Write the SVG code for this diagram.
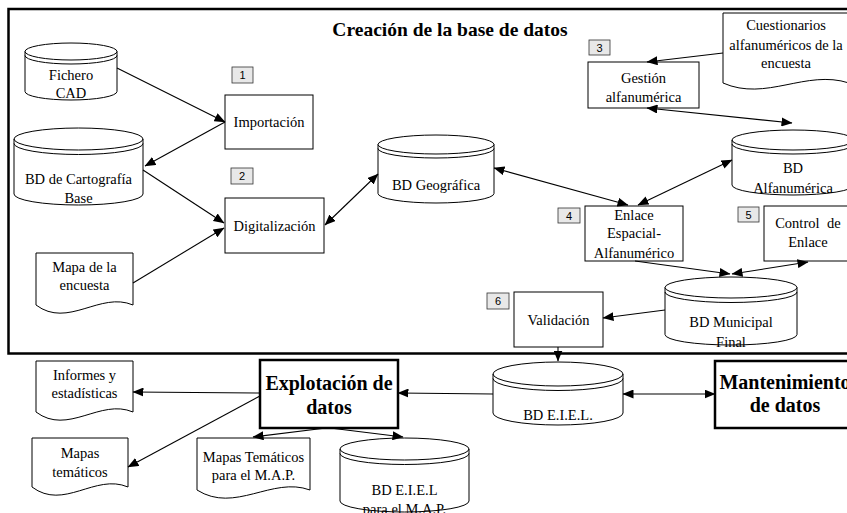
<svg xmlns="http://www.w3.org/2000/svg" width="847" height="513" viewBox="0 0 847 513">
<defs>
<marker id="ah" viewBox="0 0 11 9" refX="10.5" refY="4.5" markerWidth="11" markerHeight="9" markerUnits="userSpaceOnUse" orient="auto-start-reverse">
<path d="M0,0 L11,4.5 L0,9 z" fill="#000"/>
</marker>
</defs>
<style>
.n{fill:#fff;stroke:#000;stroke-width:1}
.tk{fill:#fff;stroke:#000;stroke-width:2.5}
.ln{fill:none;stroke:#000;stroke-width:1}
.t{font-family:"Liberation Serif","Times New Roman",serif;font-size:14.5px;fill:#000;text-anchor:middle}
.b{font-family:"Liberation Serif","Times New Roman",serif;font-size:20px;font-weight:bold;fill:#000;text-anchor:middle}
.lb{fill:#e8e8e8;stroke:#333;stroke-width:0.8}
.lt{font-family:"Liberation Sans",Arial,sans-serif;font-size:11px;fill:#000;text-anchor:middle}
.c{fill:none;stroke:#000;stroke-width:1.1;marker-end:url(#ah)}
.c2{fill:none;stroke:#000;stroke-width:1.1;marker-end:url(#ah);marker-start:url(#ah)}
</style>

<g id="frame">
<rect x="8.5" y="9" width="850" height="344.5" fill="none" stroke="#000" stroke-width="2.5"/>
<text x="450" y="36" class="b" style="font-size:19.5px">Creación de la base de datos</text>
</g>

<g id="fichero-cad">
<path class="n" d="M25,51.5 A46,8.5 0 0 1 117,51.5 L117,91.5 A46,8.5 0 0 1 25,91.5 Z"/>
<path class="ln" d="M25,51.5 A46,8.5 0 0 0 117,51.5 M25,55.5 A46,8.5 0 0 0 117,55.5"/>
<text x="71" y="80" class="t">Fichero</text>
<text x="71" y="98" class="t">CAD</text>
</g>

<g id="bd-cartografia">
<path class="n" d="M14,139 A64.5,11 0 0 1 143,139 L143,194 A64.5,11 0 0 1 14,194 Z"/>
<path class="ln" d="M14,139 A64.5,11 0 0 0 143,139 M14,143.5 A64.5,11 0 0 0 143,143.5"/>
<text x="78.5" y="184" class="t">BD de Cartografía</text>
<text x="78.5" y="203" class="t">Base</text>
</g>

<g id="mapa-encuesta">
<path class="n" d="M36,253 L133,253 L133,305 C100,291 68,329 36,305 Z"/>
<text x="84.5" y="272" class="t">Mapa de la</text>
<text x="84.5" y="290" class="t">encuesta</text>
</g>

<g id="importacion">
<rect class="n" x="225" y="95" width="88" height="54"/>
<text x="269" y="127" class="t">Importación</text>
<rect class="lb" x="232" y="67" width="21" height="16"/>
<text x="242.5" y="79" class="lt">1</text>
</g>

<g id="digitalizacion">
<rect class="n" x="225" y="198" width="99" height="55"/>
<text x="274.5" y="231" class="t">Digitalización</text>
<rect class="lb" x="231" y="168" width="22" height="16"/>
<text x="242" y="180" class="lt">2</text>
</g>

<g id="bd-geografica">
<path class="n" d="M378,144.5 A58,9.5 0 0 1 494,144.5 L494,193.5 A58,9.5 0 0 1 378,193.5 Z"/>
<path class="ln" d="M378,144.5 A58,9.5 0 0 0 494,144.5 M378,148.5 A58,9.5 0 0 0 494,148.5"/>
<text x="436" y="190" class="t">BD Geográfica</text>
</g>

<g id="gestion">
<rect class="n" x="588" y="62" width="111" height="46"/>
<text x="643.5" y="83" class="t">Gestión</text>
<text x="643.5" y="102" class="t">alfanumérica</text>
<rect class="lb" x="589" y="40" width="21" height="15"/>
<text x="599.5" y="51.5" class="lt">3</text>
</g>

<g id="cuestionarios">
<path class="n" d="M723,13 L849,13 L849,83 C806,69 766,102 723,83 Z"/>
<text x="786" y="30" class="t">Cuestionarios</text>
<text x="786" y="50" class="t">alfanuméricos de la</text>
<text x="786" y="68" class="t">encuesta</text>
</g>

<g id="bd-alfanumerica">
<path class="n" d="M732,140 A61,10 0 0 1 854,140 L854,185 A61,10 0 0 1 732,185 Z"/>
<path class="ln" d="M732,140 A61,10 0 0 0 854,140 M732,144 A61,10 0 0 0 854,144"/>
<text x="793" y="173" class="t">BD</text>
<text x="793" y="193" class="t">Alfanumérica</text>
</g>

<g id="enlace">
<rect class="n" x="585" y="206" width="98" height="55"/>
<text x="634" y="220" class="t">Enlace</text>
<text x="634" y="238" class="t">Espacial-</text>
<text x="634" y="258" class="t">Alfanumérico</text>
<rect class="lb" x="558" y="208" width="22" height="15"/>
<text x="569" y="219.5" class="lt">4</text>
</g>

<g id="control">
<rect class="n" x="764" y="206" width="90" height="55"/>
<text x="808" y="228" class="t" style="word-spacing:4px">Control de</text>
<text x="808" y="247" class="t">Enlace</text>
<rect class="lb" x="738" y="207" width="21" height="15"/>
<text x="748.5" y="218.5" class="lt">5</text>
</g>

<g id="bd-municipal">
<path class="n" d="M665,287.5 A66,10.5 0 0 1 797,287.5 L797,334.5 A66,10.5 0 0 1 665,334.5 Z"/>
<path class="ln" d="M665,287.5 A66,10.5 0 0 0 797,287.5 M665,292 A66,10.5 0 0 0 797,292"/>
<text x="731" y="327" class="t">BD Municipal</text>
<text x="731" y="347" class="t">Final</text>
</g>

<g id="validacion">
<rect class="n" x="514" y="292" width="89" height="55"/>
<text x="558.5" y="325" class="t">Validación</text>
<rect class="lb" x="487" y="293" width="22" height="16"/>
<text x="498" y="305" class="lt">6</text>
</g>

<g id="bd-eiel">
<path class="n" d="M493,374 A65,12 0 0 1 623,374 L623,413 A65,12 0 0 1 493,413 Z"/>
<path class="ln" d="M493,374 A65,12 0 0 0 623,374 M493,378.5 A65,12 0 0 0 623,378.5"/>
<text x="558" y="420" class="t">BD E.I.E.L.</text>
</g>

<g id="mantenimiento">
<rect class="tk" x="715" y="361" width="140" height="67"/>
<text x="785" y="389" class="b">Mantenimiento</text>
<text x="785" y="412" class="b">de datos</text>
</g>

<g id="explotacion">
<rect class="tk" x="260" y="360" width="138" height="68"/>
<text x="329" y="390" class="b">Explotación de</text>
<text x="329" y="414" class="b">datos</text>
</g>

<g id="informes">
<path class="n" d="M36,361 L133,361 L133,412 C100,398 68,436 36,412 Z"/>
<text x="84.5" y="380" class="t">Informes y</text>
<text x="84.5" y="398" class="t">estadísticas</text>
</g>

<g id="mapas-tematicos">
<path class="n" d="M32,438 L128,438 L128,487 C95,473 64,511 32,487 Z"/>
<text x="80" y="458" class="t">Mapas</text>
<text x="80" y="477" class="t">temáticos</text>
</g>

<g id="mapas-map">
<path class="n" d="M197,438 L310,438 L310,490 C272,476 235,514 197,490 Z"/>
<text x="253.5" y="462" class="t">Mapas Temáticos</text>
<text x="253.5" y="480" class="t">para el M.A.P.</text>
</g>

<g id="bd-eiel-map">
<path class="n" d="M340,449 A64.5,11 0 0 1 469,449 L469,501 A64.5,11 0 0 1 340,501 Z"/>
<path class="ln" d="M340,449 A64.5,11 0 0 0 469,449 M340,453.5 A64.5,11 0 0 0 469,453.5"/>
<text x="404.5" y="495" class="t">BD E.I.E.L</text>
<text x="404.5" y="514" class="t">para el M.A.P.</text>
</g>

<g id="connectors">
<path class="c" d="M117,68 L225,122"/>
<path class="c" d="M225,122 L145,166"/>
<path class="c" d="M143,170 L224,223"/>
<path class="c" d="M133,283 L224,228"/>
<path class="c2" d="M325,225 L378,174"/>
<path class="c2" d="M494,168 L628,205"/>
<path class="c2" d="M638,205 L732,160"/>
<path class="c" d="M723,53 L647,62"/>
<path class="c2" d="M647,108 L792,123"/>
<path class="c" d="M635,261 L730,274"/>
<path class="c2" d="M808,262 L732,274"/>
<path class="c" d="M665,310 L603,318"/>
<path class="c" d="M558,347 L558,361"/>
<path class="c2" d="M623,394 L715,394"/>
<path class="c" d="M493,394 L398,393"/>
<path class="c" d="M260,393 L133,392"/>
<path class="c" d="M260,396 L128,467"/>
<path class="c" d="M326,428 L253,437"/>
<path class="c" d="M330,428 L403,437"/>
</g>
</svg>
